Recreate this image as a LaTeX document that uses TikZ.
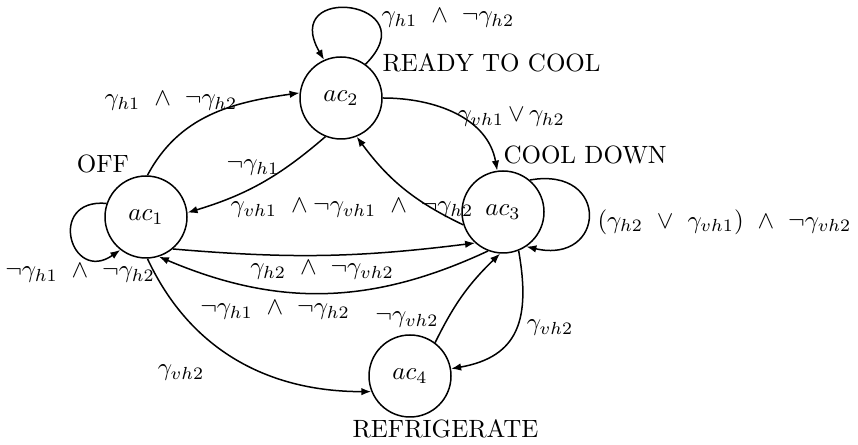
\documentclass[tikz,border=0pt]{standalone}
\usetikzlibrary{arrows.meta}
\begin{document}
\begin{tikzpicture}[x=0.4pt,y=0.4pt,
  state/.style={circle,draw,line width=0.6pt,inner sep=0pt,minimum size=32.8pt},
  edge/.style={-{Latex[length=4pt,width=3pt]},line width=0.6pt},
  lbl/.style={inner sep=0pt}]
\useasboundingbox (0,0) rectangle (858,445);
% states
\node[state] (ac1) at (146,228) {$ac_1$};
\node[state] (ac2) at (341,347) {$ac_2$};
\node[state] (ac3) at (503,233) {$ac_3$};
\node[state] (ac4) at (410,69) {$ac_4$};
% state names
\node[lbl] (n1) at (103,281) {OFF};
\node[lbl,anchor=west] (n2) at (382,382) {READY TO COOL};
\node[lbl,anchor=west] (n3) at (503,290) {COOL DOWN};
\node[lbl,anchor=west] (n4) at (352,16) {REFRIGERATE};
% edges
\draw[edge] (ac1.88) to[out=62,in=188] (ac2.173);
\draw[edge] (ac2.248) to[bend left=12] (ac1.6);
\draw[edge] (ac2.0) to[out=0,in=100] (ac3.98);
\draw[edge] (ac3.198) to[bend left=14] (ac2.292);
\draw[edge] (ac1.310) to[bend right=6] (ac3.228);
\draw[edge] (ac3.249) to[bend left=24] (ac1.288);
\draw[edge] (ac1.272) to[out=-65,in=180] (ac4.202);
\draw[edge] (ac3.292) to[out=-80,in=10,looseness=1.3] (ac4.10);
\draw[edge] (ac4.53) to[bend left=10] (ac3.266);
% loops
\draw[edge] (ac1.161) to[out=175,in=215,looseness=3.2] (ac1.232);
\draw[edge] (ac2.54) .. controls +(45:90) and +(120:90) .. (ac2.114);
\draw[edge] (ac3.50) .. controls +(10:82) and +(-13:82) .. (ac3.304);
% labels
\node[lbl] (l1) at (448,427) {$\gamma_{h1}\ \wedge\ \neg\gamma_{h2}$};
\node[lbl] (l2) at (171,344) {$\gamma_{h1}\ \wedge\ \neg\gamma_{h2}$};
\node[lbl] (l3) at (253,277) {$\neg\gamma_{h1}$};
\node[lbl] (l4) at (352,237) {$\gamma_{vh1}\ \wedge\neg\gamma_{vh1}\ \wedge\ \neg\gamma_{h2}$};
\node[lbl,anchor=west] (l5) at (457,328) {$\gamma_{vh1}\,{\vee}\,\gamma_{h2}$};
\node[lbl,anchor=west] (l6) at (597,223) {$(\gamma_{h2}\ \vee\ \gamma_{vh1})\ \wedge\ \neg\gamma_{vh2}$};
\node[lbl] (l7) at (322,175) {$\gamma_{h2}\ \wedge\ \neg\gamma_{vh2}$};
\node[lbl] (l8) at (275,135) {$\neg\gamma_{h1}\ \wedge\ \neg\gamma_{h2}$};
\node[lbl] (l9) at (80,172) {$\neg\gamma_{h1}\ \wedge\ \neg\gamma_{h2}$};
\node[lbl] (l10) at (181,72) {$\gamma_{vh2}$};
\node[lbl] (l11) at (407,125) {$\neg\gamma_{vh2}$};
\node[lbl] (l12) at (550,117) {$\gamma_{vh2}$};
\end{tikzpicture}
\end{document}
